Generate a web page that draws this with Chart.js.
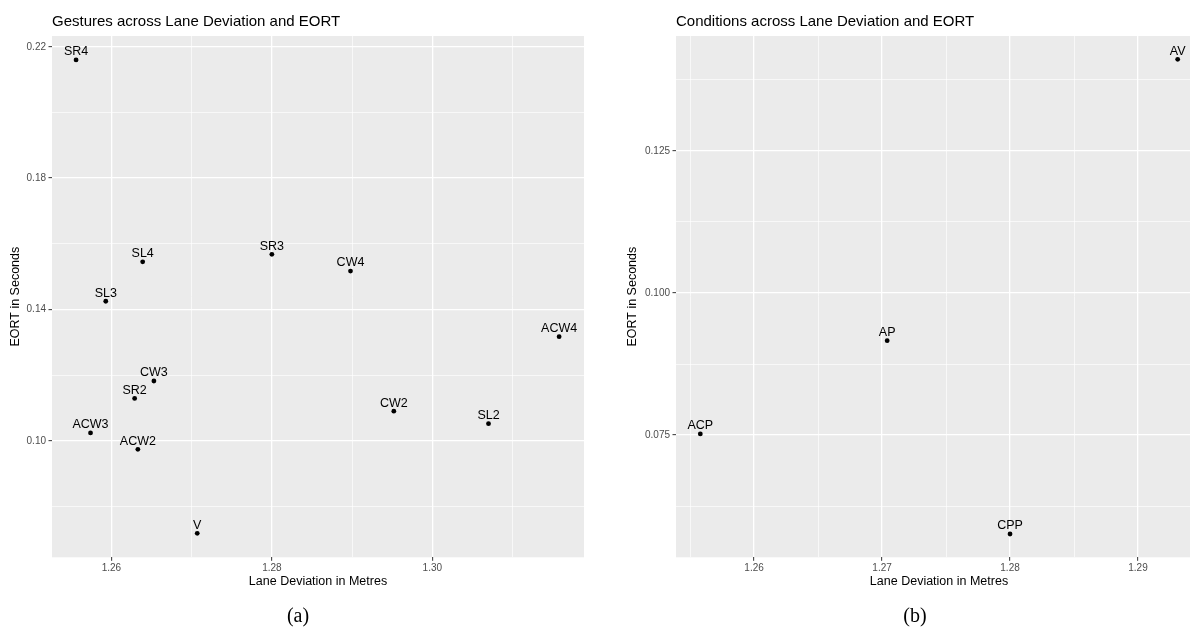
<!DOCTYPE html>
<html><head><meta charset="utf-8">
<script src="https://cdn.jsdelivr.net/npm/chart.js@4.4.1/dist/chart.umd.min.js"></script>
<style>
html,body{margin:0;padding:0;background:#fff;width:1190px;height:628px;overflow:hidden;position:relative}
canvas{position:absolute;top:0}
#c1{left:0}
#c2{left:600px}
</style></head><body>
<canvas id="c1" width="600" height="628"></canvas>
<canvas id="c2" width="620" height="628"></canvas>
<script>
// ---- data ----
const gestureNames   = ['SR4','SL4','SR3','CW4','SL3','ACW4','CW3','SR2','CW2','SL2','ACW3','ACW2','V'];
const gestureLaneDev = [1.2556,1.2639,1.2800,1.2898,1.2593,1.3158,1.2653,1.2629,1.2952,1.3070,1.2574,1.2633,1.2707];
const gestureEORT    = [0.2160,0.1545,0.1568,0.1517,0.1425,0.1317,0.1182,0.1129,0.1090,0.1052,0.1024,0.0974,0.0718];

const conditionNames   = ['AV','AP','ACP','CPP'];
const conditionLaneDev = [1.2931,1.2704,1.2558,1.2800];
const conditionEORT    = [0.1411,0.0916,0.0752,0.0576];

// ---- tick labels ----
const gestureXTickLabels   = ['1.26','1.28','1.30'];
const gestureXMinor        = [1.27,1.29,1.31];
const gestureYTickLabels   = ['0.10','0.14','0.18','0.22'];
const gestureYMinor        = [0.08,0.12,0.16,0.20];
const conditionXTickLabels = ['1.26','1.27','1.28','1.29'];
const conditionXMinor      = [1.255,1.265,1.275,1.285];
const conditionYTickLabels = ['0.075','0.100','0.125'];
const conditionYMinor      = [0.0625,0.0875,0.1125,0.1375];

const SANS = "'Liberation Sans', Arial, Helvetica, sans-serif";
const SERIF = "'Liberation Serif', 'Times New Roman', serif";

function tickSet(labels, minor){
  const t = labels.map(s => ({value: parseFloat(s), txt: s, isMajor: true}))
    .concat(minor.map(v => ({value: v, txt: '', isMajor: false})));
  t.sort((a,b) => a.value - b.value);
  return t;
}

function axisCfg(min, max, labels, minor, title, titlePad, boxSize, isX){
  return {
    type: 'linear', min: min, max: max, bounds: 'data',
    afterBuildTicks: s => { s.ticks = tickSet(labels, minor); },
    afterFit: s => { if (isX) s.height = boxSize; else s.width = boxSize; },
    ticks: {
      autoSkip: false, maxRotation: 0, minRotation: 0,
      color: '#4D4D4D', font: {family: SANS, size: 10},
      padding: isX ? 1 : 2.5,
      callback: (v, i, t) => (t[i] && t[i].txt !== undefined) ? t[i].txt : ''
    },
    grid: {
      color: '#FFFFFF',
      lineWidth: c => (c.tick && c.tick.isMajor) ? 1.3 : 0.65,
      drawTicks: true, tickLength: 3.5, tickWidth: 1,
      tickColor: c => (c.tick && c.tick.isMajor) ? '#333333' : 'rgba(0,0,0,0)'
    },
    border: {display: false},
    title: {
      display: true, text: title, color: '#000000',
      font: {family: SANS, size: 12.5},
      padding: isX ? {top: 0, bottom: titlePad} : {top: titlePad, bottom: 0}
    }
  };
}

const ggPlugin = {
  id: 'gg',
  beforeDraw(chart){
    const a = chart.chartArea, ctx = chart.ctx;
    ctx.save();
    ctx.fillStyle = '#EBEBEB';
    ctx.fillRect(a.left, a.top, a.right - a.left, a.bottom - a.top);
    ctx.restore();
  },
  afterDatasetsDraw(chart){
    const ctx = chart.ctx;
    ctx.save();
    ctx.font = '12.5px ' + SANS;
    ctx.fillStyle = '#000000';
    ctx.textAlign = 'center';
    ctx.textBaseline = 'alphabetic';
    chart.data.datasets.forEach((ds, di) => {
      const meta = chart.getDatasetMeta(di);
      meta.data.forEach((pt, i) => {
        ctx.fillText(ds.pointNames[i], pt.x, pt.y - 4.7);
      });
    });
    ctx.restore();
  },
  afterDraw(chart){
    const o = chart.options.plugins.gg, ctx = chart.ctx;
    ctx.save();
    ctx.fillStyle = '#000000';
    ctx.font = '15px ' + SANS;
    ctx.textAlign = 'left';
    ctx.textBaseline = 'middle';
    ctx.fillText(o.title, chart.chartArea.left, 21.7);
    ctx.font = '20px ' + SERIF;
    ctx.textAlign = 'center';
    ctx.fillText(o.caption, o.captionX, 617);
    ctx.restore();
  }
};

function makeChart(id, names, xs, ys, xr, yr, xl, xm, yl, ym, yWidth, yTitlePad, padRight, title, caption, captionX){
  return new Chart(document.getElementById(id), {
    type: 'scatter',
    data: {datasets: [{
      data: xs.map((x, i) => ({x: x, y: ys[i]})),
      pointNames: names,
      backgroundColor: '#000000', borderWidth: 0,
      pointRadius: 2.4, pointHoverRadius: 2.4
    }]},
    options: {
      responsive: false, animation: false, devicePixelRatio: 1,
      layout: {padding: {left: 0, top: 36, right: padRight, bottom: 0}},
      plugins: {legend: {display: false}, tooltip: {enabled: false},
        gg: {title: title, caption: caption, captionX: captionX}},
      scales: {
        x: axisCfg(xr[0], xr[1], xl, xm, 'Lane Deviation in Metres', 38.5, 70.7, true),
        y: axisCfg(yr[0], yr[1], yl, ym, 'EORT in Seconds', yTitlePad, yWidth, false)
      }
    },
    plugins: [ggPlugin]
  });
}

makeChart('c1', gestureNames, gestureLaneDev, gestureEORT,
  [1.2526, 1.3189], [0.0645, 0.2233],
  gestureXTickLabels, gestureXMinor, gestureYTickLabels, gestureYMinor,
  52, 8.5, 16, 'Gestures across Lane Deviation and EORT', '(a)', 298);

makeChart('c2', conditionNames, conditionLaneDev, conditionEORT,
  [1.2539, 1.2950], [0.0535, 0.1452],
  conditionXTickLabels, conditionXMinor, conditionYTickLabels, conditionYMinor,
  76, 25.5, 18, 'Conditions across Lane Deviation and EORT', '(b)', 315);
</script>
</body></html>
